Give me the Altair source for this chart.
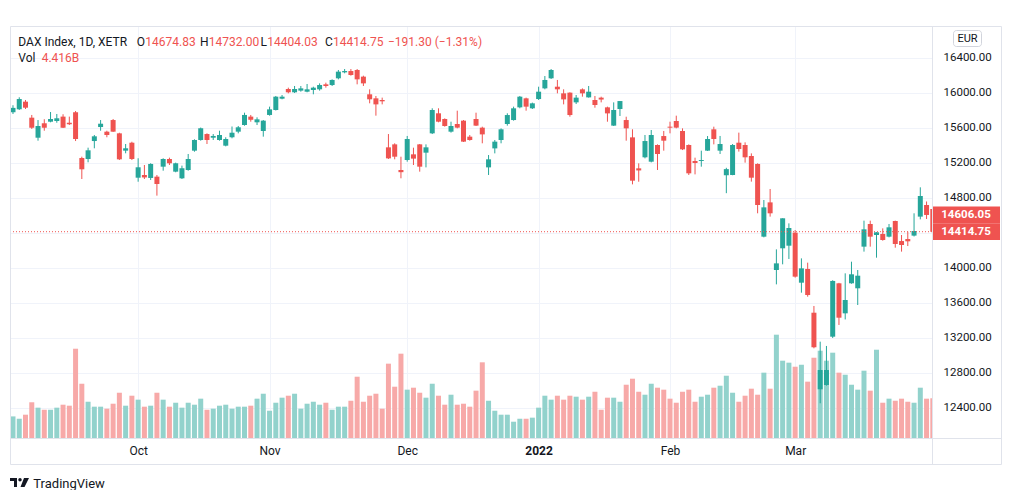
import altair as alt
import pandas as pd
import numpy as np

# ---------------- data ----------------
opens = [15780, 15814, 15901, 15718, 15489, 15654, 15672, 15680, 15730, 15660,
         15780, 15257, 15246, 15451, 15611, 15558, 15691, 15539, 15341, 15432,
         15032, 15063, 15029, 15044, 15158, 15246, 15101, 15025, 15120, 15341,
         15463, 15531, 15489, 15463, 15398, 15494, 15558, 15634, 15730, 15665,
         15566, 15749, 15806, 15935, 16046, 16008, 16027, 16015, 16034, 16042,
         16099, 16091, 16168, 16236, 16251, 16263, 16187, 15985, 15939, 15920,
         15379, 15413, 15120, 15234, 15299, 15413, 15318, 15539, 15768, 15703,
         15558, 15646, 15684, 15501, 15703, 15604, 15150, 15367, 15463, 15646,
         15691, 15836, 15939, 15825, 15931, 16053, 16168, 16072, 15996, 16004,
         15893, 16042, 15950, 15920, 15947, 15836, 15627, 15817, 15691, 15493,
         15139, 15265, 15215, 15406, 15508, 15615, 15680, 15566, 15406, 15223,
         15223, 15341, 15585, 15341, 15060, 15063, 15432, 15406, 15280, 15189,
         14358, 14750, 13977, 14225, 14255, 14404, 13832, 13989, 13489, 12614,
         12663, 13215, 13825, 13482, 13825, 13768, 14244, 14503, 14377, 14389,
         14358, 14537, 14308, 14331, 14370, 14587, 14720, 14674.83]

highs = [15860, 15951, 15920, 15749, 15691, 15700, 15783, 15760, 15757, 15730,
         15794, 15272, 15375, 15520, 15691, 15569, 15703, 15546, 15417, 15443,
         15254, 15177, 15197, 15063, 15254, 15261, 15204, 15170, 15303, 15471,
         15605, 15539, 15531, 15569, 15494, 15617, 15623, 15775, 15749, 15722,
         15691, 15844, 15966, 15977, 16061, 16080, 16080, 16103, 16072, 16110,
         16118, 16156, 16263, 16274, 16274, 16274, 16198, 16042, 15966, 15947,
         15531, 15425, 15272, 15509, 15375, 15417, 15413, 15825, 15825, 15710,
         15672, 15798, 15691, 15520, 15775, 15615, 15291, 15463, 15596, 15768,
         15844, 15966, 15947, 15890, 16072, 16194, 16274, 16149, 16042, 16008,
         15977, 16053, 16080, 15966, 15958, 15844, 15893, 15908, 15729, 15585,
         15196, 15520, 15577, 15413, 15566, 15672, 15741, 15596, 15413, 15261,
         15341, 15508, 15615, 15509, 15145, 15417, 15547, 15436, 15310, 15196,
         14777, 14903, 14213, 14568, 14510, 14434, 14110, 14061, 13566, 13158,
         13109, 13860, 13830, 13939, 14072, 13977, 14541, 14541, 14410, 14453,
         14503, 14541, 14377, 14415, 14625, 14922, 14760, 14732.00]

lows = [15760, 15806, 15817, 15589, 15455, 15569, 15665, 15660, 15600, 15634,
        15451, 15017, 15208, 15368, 15569, 15494, 15555, 15234, 15311, 15234,
        14986, 15017, 15006, 14827, 15112, 15177, 15094, 15017, 15112, 15329,
        15455, 15417, 15463, 15455, 15390, 15482, 15539, 15626, 15672, 15634,
        15501, 15741, 15800, 15928, 15996, 16000, 16015, 16008, 15985, 16027,
        16061, 16080, 16156, 16225, 16198, 16099, 16080, 15882, 15741, 15870,
        15246, 15242, 15025, 15215, 15177, 15101, 15150, 15531, 15665, 15615,
        15547, 15596, 15440, 15455, 15623, 15425, 15063, 15310, 15425, 15627,
        15684, 15825, 15798, 15817, 15920, 16042, 16160, 15996, 15870, 15729,
        15874, 15958, 15947, 15832, 15893, 15672, 15623, 15737, 15455, 14956,
        14986, 15253, 15207, 15120, 15341, 15539, 15596, 15348, 15063, 15070,
        15158, 15337, 15413, 15303, 14855, 15060, 15330, 15204, 14987, 14625,
        14350, 14587, 13813, 14042, 14103, 13890, 13718, 13672, 13082, 12454,
        12655, 13200, 13349, 13412, 13820, 13577, 14187, 14244, 14118, 14312,
        14350, 14232, 14187, 14251, 14360, 14556, 14560, 14404.03]

closes = [15830, 15931, 15832, 15603, 15623, 15603, 15703, 15711, 15603, 15643,
          15474, 15128, 15345, 15505, 15649, 15520, 15558, 15242, 15368, 15246,
          15151, 15035, 15189, 14960, 15246, 15197, 15197, 15140, 15246, 15463,
          15597, 15463, 15509, 15520, 15474, 15546, 15608, 15749, 15694, 15699,
          15684, 15813, 15958, 15958, 16008, 16046, 16053, 16042, 16061, 16091,
          16080, 16149, 16244, 16251, 16206, 16156, 16110, 15928, 15870, 15905,
          15253, 15272, 15095, 15474, 15250, 15158, 15379, 15806, 15672, 15623,
          15623, 15604, 15444, 15463, 15627, 15527, 15242, 15444, 15585, 15748,
          15825, 15958, 15844, 15882, 16015, 16149, 16263, 16042, 15927, 15748,
          15947, 15996, 16015, 15863, 15925, 15767, 15806, 15908, 15596, 14998,
          15115, 15451, 15520, 15303, 15455, 15604, 15604, 15356, 15082, 15200,
          15234, 15474, 15474, 15417, 15130, 15406, 15360, 15265, 15032, 14720,
          14693, 14625, 14053, 14568, 14457, 13901, 13996, 13691, 13094, 12834,
          12834, 13852, 13432, 13634, 13928, 13912, 14442, 14358, 14408, 14320,
          14465, 14274, 14263, 14305, 14423, 14823, 14606.05, 14414.75]

# volume in billions
volumes = [2.40, 2.14, 2.59, 3.97, 3.37, 3.14, 3.14, 3.37, 3.70, 3.59,
           9.92, 6.03, 4.03, 3.48, 3.48, 3.26, 3.81, 5.03, 3.59, 4.70,
           4.26, 3.48, 3.59, 5.03, 4.26, 3.48, 3.92, 3.37, 3.92, 3.70,
           4.37, 3.14, 3.26, 3.59, 3.70, 3.26, 3.48, 3.48, 3.59, 4.37,
           4.92, 3.03, 3.92, 4.48, 4.70, 4.92, 3.26, 3.81, 4.03, 3.70,
           3.92, 3.14, 3.48, 3.48, 4.14, 6.81, 4.03, 4.70, 4.92, 3.26,
           8.26, 5.70, 9.37, 5.37, 5.59, 5.03, 4.48, 6.03, 4.70, 3.70,
           4.81, 3.70, 3.81, 3.48, 5.26, 8.41, 4.14, 3.03, 2.59, 2.59,
           1.81, 2.14, 2.14, 2.26, 3.37, 4.70, 4.26, 4.70, 4.26, 4.70,
           4.59, 4.26, 4.59, 5.14, 3.14, 4.48, 4.48, 4.03, 5.92, 6.59,
           5.14, 4.81, 6.03, 5.59, 5.37, 4.37, 3.92, 5.14, 5.37, 4.03,
           4.59, 4.81, 5.59, 5.81, 6.92, 5.03, 4.03, 4.70, 5.48, 4.81,
           7.26, 5.48, 11.48, 8.59, 8.37, 7.92, 8.14, 6.26, 8.92, 9.70,
           8.59, 9.48, 7.26, 7.03, 5.92, 5.37, 7.48, 5.26, 9.81, 3.92,
           4.37, 4.14, 4.37, 4.03, 3.92, 5.59, 4.37, 4.416]

month_tick_idx = [20, 41, 63, 84, 105, 125]
month_tick_labels = ["Oct", "Nov", "Dec", "2022", "Feb", "Mar"]
price_ticks = [12400, 12800, 13200, 13600, 14000, 14400, 14800,
               15200, 15600, 16000, 16400]
hidden_price_tick = 14400  # its label sits under the last-price tags
price_labels = [14606.05, 14414.75]
last_close = 14414.75

title_text = "DAX Index, 1D, XETR"
ohlc_letters = ["O", "H", "L", "C"]
ohlc_values = ["14674.83", "14732.00", "14404.03", "14414.75"]
change_text = "\u2212191.30 (\u22121.31%)"
vol_letter = "Vol"
vol_value = "4.416B"
currency = "EUR"
brand = "TradingView"

# ---------------- styling ----------------
W, H = 922, 412
FONT = "Roboto"
TXT = "#131722"
UP, DOWN = "#26a69a", "#ef5350"
VUP, VDOWN = "#92d2cc", "#f7a9a8"
GRID = "#f0f3fa"
FRAME = "#e0e3eb"

df = pd.DataFrame({"i": np.arange(len(opens)), "open": opens, "high": highs,
                   "low": lows, "close": closes, "vol": volumes})
df["dir"] = np.where(df["close"] >= df["open"], "up", "down")

xscale = alt.Scale(domain=[0.32, 146.07], nice=False, zero=False)
yscale = alt.Scale(domain=[12057.1, 16765.7], nice=False, zero=False)
vscale = alt.Scale(domain=[0, 45.78], nice=False, zero=True)

label_expr = " : ".join(f"datum.value == {v} ? '{t}'" for v, t in
                        zip(month_tick_idx, month_tick_labels)) + " : ''"
bold_idx = month_tick_idx[month_tick_labels.index("2022")]

xaxis = alt.Axis(values=month_tick_idx, labelExpr=label_expr, grid=True,
                 gridColor=GRID, gridWidth=1, ticks=False, tickSize=0, domain=False,
                 labelPadding=7, labelFontSize=12, labelColor=TXT, labelFont=FONT,
                 labelFontWeight={"condition": {"test": f"datum.value == {bold_idx}",
                                                "value": "bold"}, "value": "normal"},
                 title=None, labelFlush=False, labelOverlap=False)
yaxis = alt.Axis(orient="right", values=price_ticks,
                 labelExpr=f"datum.value == {hidden_price_tick} ? '' : format(datum.value, '.2f')",
                 grid=True, gridColor=GRID, gridWidth=1, ticks=False, tickSize=0,
                 domain=False, labelPadding=11, labelFontSize=11.5, labelColor=TXT,
                 labelFont=FONT, title=None, labelAlign="left", labelFlush=False,
                 labelOverlap=False)

X = alt.X("i:Q", scale=xscale, axis=xaxis)
cdir = alt.Color("dir:N", scale=alt.Scale(domain=["up", "down"], range=[UP, DOWN]), legend=None)
vdir = alt.Color("dir:N", scale=alt.Scale(domain=["up", "down"], range=[VUP, VDOWN]), legend=None)

base = alt.Chart(df)

volume = base.mark_bar(size=5, clip=True).encode(
    x=X, y=alt.Y("vol:Q", scale=vscale, axis=None), color=vdir)

wicks = base.mark_rule(clip=True, strokeWidth=1).encode(
    x=X, y=alt.Y("low:Q", scale=yscale, axis=yaxis), y2="high:Q", color=cdir)
bodies = base.mark_bar(size=5, clip=True).encode(
    x=X, y=alt.Y("open:Q", scale=yscale, axis=yaxis), y2="close:Q", color=cdir)

last_df = pd.DataFrame({"p": [last_close]})
dotted = alt.Chart(last_df).mark_rule(color=DOWN, strokeDash=[1, 2], strokeWidth=1).encode(
    y=alt.Y("p:Q", scale=yscale, axis=yaxis), x=alt.value(0), x2=alt.value(W))

lab_df = pd.DataFrame({"p": price_labels})
lab_box = alt.Chart(lab_df).mark_rect(color=DOWN, yOffset=-8.4, y2Offset=8.4).encode(
    y=alt.Y("p:Q", scale=yscale, axis=yaxis), y2="p:Q", x=alt.value(W), x2=alt.value(990))
lab_txt = alt.Chart(lab_df).mark_text(color="white", fontWeight="bold", fontSize=11.5,
                                      font=FONT, align="center", baseline="middle").encode(
    y=alt.Y("p:Q", scale=yscale, axis=yaxis), x=alt.value(956),
    text=alt.Text("p:Q", format=".2f"))

price = alt.layer(wicks, bodies, dotted, lab_box, lab_txt)

dummy = pd.DataFrame({"a": [1]})


def txt(s, x, y, color=TXT, size=12, weight="normal", align="left"):
    return alt.Chart(dummy).mark_text(text=s, align=align, baseline="middle",
                                      fontSize=size, fontWeight=weight, color=color,
                                      font=FONT).encode(x=alt.value(x), y=alt.value(y))


def rule(x1, x2, y1, y2, color=FRAME):
    return alt.Chart(dummy).mark_rule(color=color, strokeWidth=1).encode(
        x=alt.value(x1), x2=alt.value(x2), y=alt.value(y1), y2=alt.value(y2))


overlays = [
    rule(0.5, 991.5, 0.5, 0.5), rule(0.5, 991.5, 438.5, 438.5),
    rule(0.5, 0.5, 0.5, 438.5), rule(991.5, 991.5, 0.5, 438.5),
    rule(0.5, 991.5, 412.5, 412.5), rule(922.5, 922.5, 0.5, 438.5),
    txt(title_text, 8.3, 16),
]
letter_x = [126.7, 190.0, 250.5, 315.0]
value_x = [135.3, 198.8, 257.3, 323.1]
for lx, vx, letter, val in zip(letter_x, value_x, ohlc_letters, ohlc_values):
    overlays.append(txt(letter, lx, 16))
    overlays.append(txt(val, vx, 16, color=DOWN))
overlays += [
    txt(change_text, 378, 16, color=DOWN),
    txt(vol_letter, 8.3, 32.3),
    txt(vol_value, 31.7, 32.3, color=DOWN),
    alt.Chart(dummy).mark_rect(fill="white", stroke="#d1d4dc", strokeWidth=1,
                               cornerRadius=3).encode(
        x=alt.value(943.5), x2=alt.value(971.5), y=alt.value(4.5), y2=alt.value(20.5)),
    txt(currency, 957.5, 12.8, size=11, align="center"),
    alt.Chart(dummy).mark_point(
        shape=("M-0.95,-0.45 L-0.25,-0.45 L-0.25,0.45 L-0.55,0.45 L-0.55,-0.15 "
               "L-0.95,-0.15 Z M-0.12,-0.27 A0.17,0.17 0 1,0 0.22,-0.27 "
               "A0.17,0.17 0 1,0 -0.12,-0.27 Z M0.45,-0.45 L0.95,-0.45 L0.5,0.45 "
               "L0.1,0.45 Z"),
        size=400, filled=True, color=TXT, opacity=1, strokeWidth=0).encode(
        x=alt.value(9.5), y=alt.value(456.5)),
    txt(brand, 23.3, 457.5, size=13),
]

chart = alt.layer(volume, price, *overlays).resolve_scale(
    y="independent", color="independent").properties(
    width=W, height=H,
    padding={"left": 2, "top": 18, "right": 72, "bottom": 52},
    autosize=alt.AutoSizeParams(type="none"),
    background="white",
).configure_view(strokeWidth=0)

chart.save("out.html", embed_options={"renderer": "svg", "actions": False})
